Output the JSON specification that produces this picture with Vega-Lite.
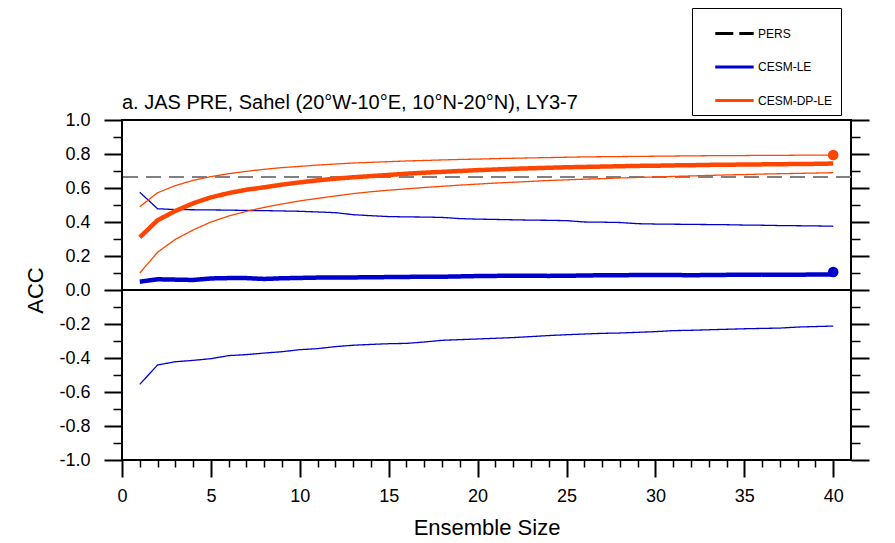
{
  "$schema": "https://vega.github.io/schema/vega-lite/v6.json",
  "width": 729,
  "height": 340,
  "autosize": {"type": "none"},
  "padding": {"left": 122, "top": 120, "right": 44, "bottom": 83},
  "background": "white",
  "title": {"text": "a. JAS PRE, Sahel (20°W-10°E, 10°N-20°N), LY3-7", "anchor": "start", "frame": "group", "font": "Liberation Sans", "fontSize": 20, "fontWeight": "normal", "color": "black", "baseline": "alphabetic", "offset": 0, "dy": 121},
  "data": {"values": [
    {"model":"CESM-LE","n":1,"mean":0.049,"hi":0.575,"lo":-0.555},
    {"model":"CESM-LE","n":2,"mean":0.063,"hi":0.478,"lo":-0.441},
    {"model":"CESM-LE","n":3,"mean":0.061,"hi":0.473,"lo":-0.422},
    {"model":"CESM-LE","n":4,"mean":0.059,"hi":0.472,"lo":-0.414},
    {"model":"CESM-LE","n":5,"mean":0.068,"hi":0.471,"lo":-0.404},
    {"model":"CESM-LE","n":6,"mean":0.07,"hi":0.47,"lo":-0.386},
    {"model":"CESM-LE","n":7,"mean":0.07,"hi":0.468,"lo":-0.38},
    {"model":"CESM-LE","n":8,"mean":0.065,"hi":0.467,"lo":-0.371},
    {"model":"CESM-LE","n":9,"mean":0.069,"hi":0.465,"lo":-0.363},
    {"model":"CESM-LE","n":10,"mean":0.071,"hi":0.463,"lo":-0.351},
    {"model":"CESM-LE","n":11,"mean":0.073,"hi":0.459,"lo":-0.345},
    {"model":"CESM-LE","n":12,"mean":0.073,"hi":0.455,"lo":-0.333},
    {"model":"CESM-LE","n":13,"mean":0.074,"hi":0.443,"lo":-0.325},
    {"model":"CESM-LE","n":14,"mean":0.075,"hi":0.437,"lo":-0.32},
    {"model":"CESM-LE","n":15,"mean":0.076,"hi":0.432,"lo":-0.316},
    {"model":"CESM-LE","n":16,"mean":0.077,"hi":0.43,"lo":-0.314},
    {"model":"CESM-LE","n":17,"mean":0.078,"hi":0.429,"lo":-0.306},
    {"model":"CESM-LE","n":18,"mean":0.078,"hi":0.427,"lo":-0.296},
    {"model":"CESM-LE","n":19,"mean":0.08,"hi":0.42,"lo":-0.292},
    {"model":"CESM-LE","n":20,"mean":0.082,"hi":0.417,"lo":-0.288},
    {"model":"CESM-LE","n":21,"mean":0.083,"hi":0.415,"lo":-0.284},
    {"model":"CESM-LE","n":22,"mean":0.084,"hi":0.413,"lo":-0.28},
    {"model":"CESM-LE","n":23,"mean":0.084,"hi":0.411,"lo":-0.274},
    {"model":"CESM-LE","n":24,"mean":0.083,"hi":0.41,"lo":-0.268},
    {"model":"CESM-LE","n":25,"mean":0.084,"hi":0.408,"lo":-0.263},
    {"model":"CESM-LE","n":26,"mean":0.085,"hi":0.4,"lo":-0.259},
    {"model":"CESM-LE","n":27,"mean":0.087,"hi":0.399,"lo":-0.255},
    {"model":"CESM-LE","n":28,"mean":0.087,"hi":0.397,"lo":-0.253},
    {"model":"CESM-LE","n":29,"mean":0.088,"hi":0.39,"lo":-0.249},
    {"model":"CESM-LE","n":30,"mean":0.088,"hi":0.388,"lo":-0.245},
    {"model":"CESM-LE","n":31,"mean":0.088,"hi":0.387,"lo":-0.239},
    {"model":"CESM-LE","n":32,"mean":0.087,"hi":0.386,"lo":-0.237},
    {"model":"CESM-LE","n":33,"mean":0.088,"hi":0.385,"lo":-0.234},
    {"model":"CESM-LE","n":34,"mean":0.089,"hi":0.384,"lo":-0.231},
    {"model":"CESM-LE","n":35,"mean":0.089,"hi":0.382,"lo":-0.228},
    {"model":"CESM-LE","n":36,"mean":0.089,"hi":0.381,"lo":-0.226},
    {"model":"CESM-LE","n":37,"mean":0.09,"hi":0.379,"lo":-0.224},
    {"model":"CESM-LE","n":38,"mean":0.09,"hi":0.378,"lo":-0.218},
    {"model":"CESM-LE","n":39,"mean":0.091,"hi":0.377,"lo":-0.215},
    {"model":"CESM-LE","n":40,"mean":0.092,"hi":0.375,"lo":-0.212},
    {"model":"CESM-DP-LE","n":1,"mean":0.31,"hi":0.49,"lo":0.1},
    {"model":"CESM-DP-LE","n":2,"mean":0.41,"hi":0.572,"lo":0.222},
    {"model":"CESM-DP-LE","n":3,"mean":0.465,"hi":0.614,"lo":0.298},
    {"model":"CESM-DP-LE","n":4,"mean":0.51,"hi":0.645,"lo":0.353},
    {"model":"CESM-DP-LE","n":5,"mean":0.545,"hi":0.667,"lo":0.4},
    {"model":"CESM-DP-LE","n":6,"mean":0.57,"hi":0.684,"lo":0.435},
    {"model":"CESM-DP-LE","n":7,"mean":0.59,"hi":0.698,"lo":0.463},
    {"model":"CESM-DP-LE","n":8,"mean":0.604,"hi":0.71,"lo":0.486},
    {"model":"CESM-DP-LE","n":9,"mean":0.62,"hi":0.72,"lo":0.506},
    {"model":"CESM-DP-LE","n":10,"mean":0.633,"hi":0.727,"lo":0.524},
    {"model":"CESM-DP-LE","n":11,"mean":0.645,"hi":0.735,"lo":0.539},
    {"model":"CESM-DP-LE","n":12,"mean":0.655,"hi":0.741,"lo":0.553},
    {"model":"CESM-DP-LE","n":13,"mean":0.663,"hi":0.747,"lo":0.567},
    {"model":"CESM-DP-LE","n":14,"mean":0.67,"hi":0.751,"lo":0.578},
    {"model":"CESM-DP-LE","n":15,"mean":0.677,"hi":0.755,"lo":0.587},
    {"model":"CESM-DP-LE","n":16,"mean":0.684,"hi":0.759,"lo":0.595},
    {"model":"CESM-DP-LE","n":17,"mean":0.69,"hi":0.762,"lo":0.603},
    {"model":"CESM-DP-LE","n":18,"mean":0.695,"hi":0.765,"lo":0.61},
    {"model":"CESM-DP-LE","n":19,"mean":0.7,"hi":0.768,"lo":0.617},
    {"model":"CESM-DP-LE","n":20,"mean":0.705,"hi":0.77,"lo":0.623},
    {"model":"CESM-DP-LE","n":21,"mean":0.709,"hi":0.773,"lo":0.629},
    {"model":"CESM-DP-LE","n":22,"mean":0.713,"hi":0.775,"lo":0.634},
    {"model":"CESM-DP-LE","n":23,"mean":0.716,"hi":0.777,"lo":0.639},
    {"model":"CESM-DP-LE","n":24,"mean":0.719,"hi":0.779,"lo":0.644},
    {"model":"CESM-DP-LE","n":25,"mean":0.722,"hi":0.781,"lo":0.648},
    {"model":"CESM-DP-LE","n":26,"mean":0.724,"hi":0.783,"lo":0.652},
    {"model":"CESM-DP-LE","n":27,"mean":0.726,"hi":0.784,"lo":0.655},
    {"model":"CESM-DP-LE","n":28,"mean":0.728,"hi":0.785,"lo":0.659},
    {"model":"CESM-DP-LE","n":29,"mean":0.73,"hi":0.786,"lo":0.662},
    {"model":"CESM-DP-LE","n":30,"mean":0.731,"hi":0.787,"lo":0.665},
    {"model":"CESM-DP-LE","n":31,"mean":0.733,"hi":0.788,"lo":0.668},
    {"model":"CESM-DP-LE","n":32,"mean":0.734,"hi":0.789,"lo":0.671},
    {"model":"CESM-DP-LE","n":33,"mean":0.736,"hi":0.79,"lo":0.674},
    {"model":"CESM-DP-LE","n":34,"mean":0.737,"hi":0.79,"lo":0.677},
    {"model":"CESM-DP-LE","n":35,"mean":0.738,"hi":0.791,"lo":0.679},
    {"model":"CESM-DP-LE","n":36,"mean":0.739,"hi":0.792,"lo":0.682},
    {"model":"CESM-DP-LE","n":37,"mean":0.74,"hi":0.792,"lo":0.684},
    {"model":"CESM-DP-LE","n":38,"mean":0.741,"hi":0.793,"lo":0.686},
    {"model":"CESM-DP-LE","n":39,"mean":0.742,"hi":0.793,"lo":0.688},
    {"model":"CESM-DP-LE","n":40,"mean":0.744,"hi":0.794,"lo":0.69}
  ]},
  "layer": [
    {
      "data": {"values": [{"series": "PERS", "acc": 0.665}]},
      "mark": {"type": "rule", "color": "#808080", "strokeWidth": 2, "strokeDash": [15, 8]},
      "encoding": {"y": {"field": "acc", "type": "quantitative", "axis": null, "scale": {"domain": [-1, 1], "nice": false, "zero": false}}}
    },
    {
      "mark": {"type": "line", "strokeWidth": 1.3},
      "encoding": {
        "x": {"field": "n", "type": "quantitative", "scale": {"domain": [0, 41], "nice": false, "zero": false},
          "axis": {"values": [0,1,2,3,4,5,6,7,8,9,10,11,12,13,14,15,16,17,18,19,20,21,22,23,24,25,26,27,28,29,30,31,32,33,34,35,36,37,38,39,40],
            "labelExpr": "datum.value % 5 == 0 ? datum.label : ''",
            "tickSize": {"condition": {"test": "datum.value % 5 != 0", "value": 7}, "value": 17},
            "tickWidth": {"condition": {"test": "datum.value % 5 != 0", "value": 1.5}, "value": 2},
            "tickColor": "black", "domain": false, "grid": false,
            "labelFont": "Liberation Sans", "labelFontSize": 18, "labelColor": "black", "labelPadding": 10,
            "labelOverlap": false, "labelFlush": false,
            "title": "Ensemble Size", "titleFont": "Liberation Sans", "titleFontSize": 22, "titleFontWeight": "normal", "titleColor": "black", "titlePadding": 12}},
        "y": {"field": "hi", "type": "quantitative", "axis": null},
        "color": {"field": "model", "type": "nominal",
          "scale": {"domain": ["PERS", "CESM-LE", "CESM-DP-LE"], "range": ["#000000", "#0000CD", "#FF4500"]},
          "legend": {"orient": "none", "legendX": 570, "legendY": -112, "title": null, "symbolType": "M-1.2,0H1.2", "symbolSize": 1024, "symbolStrokeWidth": 3, "symbolOffset": 17, "labelFont": "Liberation Sans", "labelFontSize": 12, "labelColor": "black", "labelOffset": 6, "padding": 8, "rowPadding": 9.5, "strokeColor": "black", "fillColor": "white",
            "encode": {"symbols": {"update": {"strokeWidth": {"value": 3}}}}}},
        "strokeDash": {"field": "model", "type": "nominal",
          "scale": {"domain": ["PERS", "CESM-LE", "CESM-DP-LE"], "range": [[18, 6], [1, 0], [1, 0]]},
          "legend": {"orient": "none", "legendX": 570, "legendY": -112, "title": null, "symbolType": "M-1.2,0H1.2", "symbolSize": 1024, "symbolStrokeWidth": 3, "symbolOffset": 17, "labelFont": "Liberation Sans", "labelFontSize": 12, "labelColor": "black", "labelOffset": 6, "padding": 8, "rowPadding": 9.5, "strokeColor": "black", "fillColor": "white",
            "encode": {"symbols": {"update": {"strokeWidth": {"value": 3}}}}}}
      }
    },
    {
      "mark": {"type": "line", "strokeWidth": 1.3},
      "encoding": {
        "x": {"field": "n", "type": "quantitative",
          "axis": {"values": [0,1,2,3,4,5,6,7,8,9,10,11,12,13,14,15,16,17,18,19,20,21,22,23,24,25,26,27,28,29,30,31,32,33,34,35,36,37,38,39,40],
            "labelExpr": "datum.value % 5 == 0 ? datum.label : ''",
            "tickSize": {"condition": {"test": "datum.value % 5 != 0", "value": 7}, "value": 17},
            "tickWidth": {"condition": {"test": "datum.value % 5 != 0", "value": 1.5}, "value": 2},
            "tickColor": "black", "domain": false, "grid": false,
            "labelFont": "Liberation Sans", "labelFontSize": 18, "labelColor": "black", "labelPadding": 10,
            "labelOverlap": false, "labelFlush": false,
            "title": "Ensemble Size", "titleFont": "Liberation Sans", "titleFontSize": 22, "titleFontWeight": "normal", "titleColor": "black", "titlePadding": 12}},
        "y": {"field": "lo", "type": "quantitative", "axis": null},
        "color": {"field": "model", "type": "nominal"},
        "strokeDash": {"field": "model", "type": "nominal"}
      }
    },
    {
      "mark": {"type": "line", "strokeWidth": 4.5},
      "encoding": {
        "x": {"field": "n", "type": "quantitative",
          "axis": {"values": [0,1,2,3,4,5,6,7,8,9,10,11,12,13,14,15,16,17,18,19,20,21,22,23,24,25,26,27,28,29,30,31,32,33,34,35,36,37,38,39,40],
            "labelExpr": "datum.value % 5 == 0 ? datum.label : ''",
            "tickSize": {"condition": {"test": "datum.value % 5 != 0", "value": 7}, "value": 17},
            "tickWidth": {"condition": {"test": "datum.value % 5 != 0", "value": 1.5}, "value": 2},
            "tickColor": "black", "domain": false, "grid": false,
            "labelFont": "Liberation Sans", "labelFontSize": 18, "labelColor": "black", "labelPadding": 10,
            "labelOverlap": false, "labelFlush": false,
            "title": "Ensemble Size", "titleFont": "Liberation Sans", "titleFontSize": 22, "titleFontWeight": "normal", "titleColor": "black", "titlePadding": 12}},
        "y": {"field": "mean", "type": "quantitative",
          "axis": {"orient": "left", "values": [-1,-0.9,-0.8,-0.7,-0.6,-0.5,-0.4,-0.3,-0.2,-0.1,0,0.1,0.2,0.3,0.4,0.5,0.6,0.7,0.8,0.9,1],
            "format": ".1f",
            "labelExpr": "abs(round(datum.value*10)) % 2 == 0 ? replace(datum.label, '\u2212', '-') : ''",
            "tickSize": {"condition": {"test": "abs(round(datum.value*10)) % 2 == 1", "value": 9}, "value": 18},
            "tickWidth": {"condition": {"test": "abs(round(datum.value*10)) % 2 == 1", "value": 1.5}, "value": 2},
            "tickColor": "black", "domain": false, "grid": false,
            "labelFont": "Liberation Sans", "labelFontSize": 18, "labelColor": "black", "labelPadding": 14,
            "labelOverlap": false, "labelFlush": false,
            "title": "ACC", "titleFont": "Liberation Sans", "titleFontSize": 22, "titleFontWeight": "normal", "titleColor": "black", "titlePadding": 11}},
        "color": {"field": "model", "type": "nominal"},
        "strokeDash": {"field": "model", "type": "nominal"}
      }
    },
    {
      "mark": {"type": "rule", "color": "black", "strokeWidth": 1.2},
      "encoding": {
        "y": {"datum": 0, "type": "quantitative",
          "axis": {"orient": "right", "values": [-1,-0.9,-0.8,-0.7,-0.6,-0.5,-0.4,-0.3,-0.2,-0.1,0,0.1,0.2,0.3,0.4,0.5,0.6,0.7,0.8,0.9,1],
            "labels": false, "title": null, "domain": false, "grid": false, "tickColor": "black",
            "tickSize": {"condition": {"test": "abs(round(datum.value*10)) % 2 == 1", "value": 9}, "value": 18},
            "tickWidth": {"condition": {"test": "abs(round(datum.value*10)) % 2 == 1", "value": 1.5}, "value": 2}}}
      }
    },
    {
      "data": {"values": [{"model": "CESM-LE", "n": 40, "acc": 0.106}, {"model": "CESM-DP-LE", "n": 40, "acc": 0.794}]},
      "mark": {"type": "circle", "size": 113, "opacity": 1},
      "encoding": {
        "x": {"field": "n", "type": "quantitative",
          "axis": {"values": [0,1,2,3,4,5,6,7,8,9,10,11,12,13,14,15,16,17,18,19,20,21,22,23,24,25,26,27,28,29,30,31,32,33,34,35,36,37,38,39,40],
            "labelExpr": "datum.value % 5 == 0 ? datum.label : ''",
            "tickSize": {"condition": {"test": "datum.value % 5 != 0", "value": 7}, "value": 17},
            "tickWidth": {"condition": {"test": "datum.value % 5 != 0", "value": 1.5}, "value": 2},
            "tickColor": "black", "domain": false, "grid": false,
            "labelFont": "Liberation Sans", "labelFontSize": 18, "labelColor": "black", "labelPadding": 10,
            "labelOverlap": false, "labelFlush": false,
            "title": "Ensemble Size", "titleFont": "Liberation Sans", "titleFontSize": 22, "titleFontWeight": "normal", "titleColor": "black", "titlePadding": 12}},
        "y": {"field": "acc", "type": "quantitative", "axis": null},
        "fill": {"field": "model", "type": "nominal", "scale": {"domain": ["CESM-LE", "CESM-DP-LE"], "range": ["#0000CD", "#FF4500"]}, "legend": null}
      }
    }
  ],
  "config": {
    "font": "Liberation Sans",
    "view": {"stroke": "black", "strokeWidth": 2}
  }
}
